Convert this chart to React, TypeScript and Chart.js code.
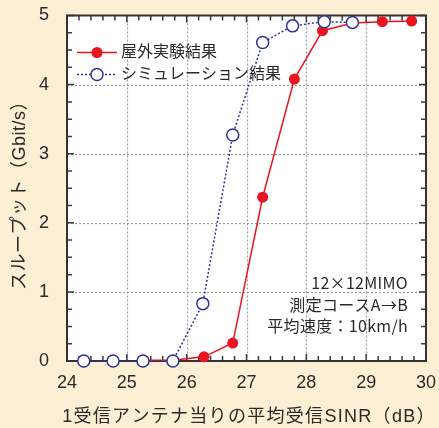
import React, { useEffect, useRef } from "react";
import { Chart, registerables } from "chart.js";

Chart.register(...registerables);

const simX = [24.28, 24.77, 25.27, 25.77, 26.27, 26.77, 27.27, 27.77, 28.3, 28.77];
const simY = [0, 0, 0, 0, 0.83, 3.27, 4.61, 4.85, 4.91, 4.9];
const expX = [25.27, 25.77, 26.29, 26.77, 27.27, 27.8, 28.27, 28.77, 29.27, 29.76];
const expY = [0.01, 0.01, 0.06, 0.26, 2.37, 4.08, 4.78, 4.89, 4.91, 4.92];

const xTicks = [24, 25, 26, 27, 28, 29, 30];
const yTicks = [0, 1, 2, 3, 4, 5];

const legendLabels = ["屋外実験結果", "シミュレーション結果"];
const noteLines = ["12×12MIMO", "測定コースA→B", "平均速度：10km/h"];
const xTitle = "1受信アンテナ当りの平均受信SINR（dB）";
const yTitle = "スループット（Gbit/s）";

const RED = "#e8141f";
const BLUE = "#2b3590";
const BG = "#fdefd4";
const TEXT = "#2a2a2a";
const FONT = "'Liberation Sans', 'Noto Sans CJK JP', sans-serif";
const CJK = "'Noto Sans CJK JP', 'Liberation Sans', sans-serif";

const decorPlugin = {
  id: "decor",
  beforeDraw(chart: any) {
    const { ctx, chartArea: a } = chart;
    ctx.save();
    ctx.fillStyle = BG;
    ctx.fillRect(0, 0, chart.width, chart.height);
    ctx.fillStyle = "#ffffff";
    ctx.fillRect(a.left, a.top, a.right - a.left, a.bottom - a.top);
    ctx.restore();
  },
  beforeDatasetsDraw(chart: any) {
    const { ctx, chartArea: a } = chart;
    const xs = chart.scales.x;
    const ys = chart.scales.y;
    ctx.save();
    ctx.strokeStyle = "#9a9a9a";
    ctx.lineWidth = 1.2;
    ctx.setLineDash([2, 2]);
    xTicks.slice(1, -1).forEach((v) => {
      const px = Math.round(xs.getPixelForValue(v)) + 0.5;
      ctx.beginPath();
      ctx.moveTo(px, a.top);
      ctx.lineTo(px, a.bottom);
      ctx.stroke();
    });
    yTicks.slice(1, -1).forEach((v) => {
      const py = Math.round(ys.getPixelForValue(v)) + 0.5;
      ctx.beginPath();
      ctx.moveTo(a.left, py);
      ctx.lineTo(a.right, py);
      ctx.stroke();
    });
    ctx.setLineDash([]);
    ctx.strokeStyle = "#3a3a3a";
    ctx.lineWidth = 1.5;
    for (let i = 0; i <= 30; i++) {
      const v = 24 + i * 0.2;
      const px = xs.getPixelForValue(v);
      const len = i % 5 === 0 ? 7 : 5;
      ctx.beginPath();
      ctx.moveTo(px, a.bottom);
      ctx.lineTo(px, a.bottom - len);
      ctx.moveTo(px, a.top);
      ctx.lineTo(px, a.top + len);
      ctx.stroke();
    }
    for (let i = 0; i <= 20; i++) {
      const v = i * 0.25;
      const py = ys.getPixelForValue(v);
      const len = i % 4 === 0 ? 7 : 5;
      ctx.beginPath();
      ctx.moveTo(a.left, py);
      ctx.lineTo(a.left + len, py);
      ctx.moveTo(a.right, py);
      ctx.lineTo(a.right - len, py);
      ctx.stroke();
    }
    ctx.lineWidth = 2;
    ctx.strokeStyle = "#333333";
    ctx.strokeRect(a.left, a.top, a.right - a.left, a.bottom - a.top);
    ctx.restore();
  },
  afterDraw(chart: any) {
    const { ctx, chartArea: a } = chart;
    ctx.save();
    const lx0 = a.left + 10;
    const lx1 = a.left + 50;
    const mx = (lx0 + lx1) / 2;
    const rows = [a.top + 37, a.top + 59];
    ctx.lineWidth = 1.5;
    ctx.strokeStyle = RED;
    ctx.beginPath();
    ctx.moveTo(lx0, rows[0]);
    ctx.lineTo(lx1, rows[0]);
    ctx.stroke();
    ctx.fillStyle = RED;
    ctx.beginPath();
    ctx.arc(mx, rows[0], 5.5, 0, Math.PI * 2);
    ctx.fill();
    ctx.strokeStyle = BLUE;
    ctx.setLineDash([2, 2]);
    ctx.beginPath();
    ctx.moveTo(lx0, rows[1]);
    ctx.lineTo(lx1, rows[1]);
    ctx.stroke();
    ctx.setLineDash([]);
    ctx.fillStyle = "#ffffff";
    ctx.beginPath();
    ctx.arc(mx, rows[1], 6, 0, Math.PI * 2);
    ctx.fill();
    ctx.stroke();
    ctx.fillStyle = TEXT;
    ctx.font = `16px ${FONT}`;
    ctx.textAlign = "left";
    ctx.textBaseline = "middle";
    ctx.fillText(legendLabels[0], lx1 + 4, rows[0]);
    ctx.fillText(legendLabels[1], lx1 + 4, rows[1]);
    ctx.textAlign = "right";
    ctx.font = `16px ${CJK}`;
    try { (ctx as any).letterSpacing = "0.3px"; } catch (e) {}
    noteLines.forEach((t, i) => {
      ctx.fillText(t, a.right - 18, a.bottom - 78 + i * 21.5);
    });
    ctx.font = `18px ${FONT}`;
    try { (ctx as any).letterSpacing = "1.3px"; } catch (e) {}
    ctx.textAlign = "center";
    ctx.fillText(xTitle, 249, 417);
    try { (ctx as any).letterSpacing = "0.5px"; } catch (e) {}
    ctx.translate(20, 191);
    ctx.rotate(-Math.PI / 2);
    ctx.fillText(yTitle, 0, 0);
    ctx.restore();
  },
};

export default function App() {
  const ref = useRef<HTMLCanvasElement>(null);
  useEffect(() => {
    if (!ref.current) return;
    const chart = new Chart(ref.current, {
      type: "scatter",
      data: {
        datasets: [
          {
            label: legendLabels[1],
            data: simX.map((x, i) => ({ x, y: simY[i] })),
            showLine: true,
            borderColor: BLUE,
            borderWidth: 1.5,
            borderDash: [2, 2],
            pointRadius: 6,
            pointBorderWidth: 1.5,
            pointBackgroundColor: "#ffffff",
            pointBorderColor: BLUE,
            clip: false,
            order: 0,
          } as any,
          {
            label: legendLabels[0],
            data: expX.map((x, i) => ({ x, y: expY[i] })),
            showLine: true,
            borderColor: RED,
            borderWidth: 1.5,
            pointRadius: 5.5,
            pointBorderWidth: 0,
            pointBackgroundColor: RED,
            pointBorderColor: RED,
            clip: false,
            order: 1,
          } as any,
        ],
      },
      options: {
        responsive: false,
        animation: false,
        layout: { padding: { top: 15.5, right: 13, left: 0, bottom: 0 } },
        plugins: { legend: { display: false }, tooltip: { enabled: false } },
        scales: {
          x: {
            type: "linear",
            min: 24,
            max: 30,
            afterFit: (s: any) => { s.height = 67; s.paddingLeft = 0; s.paddingRight = 0; },
            afterBuildTicks: (s: any) => { s.ticks = xTicks.map((v) => ({ value: v })); },
            grid: { display: false },
            border: { display: false },
            ticks: { padding: 3, color: TEXT, font: { size: 18, family: FONT }, maxRotation: 0 },
          },
          y: {
            type: "linear",
            min: 0,
            max: 5,
            afterFit: (s: any) => { s.width = 67; s.paddingTop = 0; s.paddingBottom = 0; },
            afterBuildTicks: (s: any) => { s.ticks = yTicks.map((v) => ({ value: v })); },
            grid: { display: false },
            border: { display: false },
            ticks: { padding: 10, color: TEXT, font: { size: 18, family: FONT } },
          },
        },
      },
      plugins: [decorPlugin],
    });
    return () => chart.destroy();
  }, []);
  return (
    <div style={{ position: "fixed", left: 0, top: 0, width: 439, height: 428, background: BG }}>
      <canvas ref={ref} width={439} height={428} style={{ display: "block" }} />
    </div>
  );
}
